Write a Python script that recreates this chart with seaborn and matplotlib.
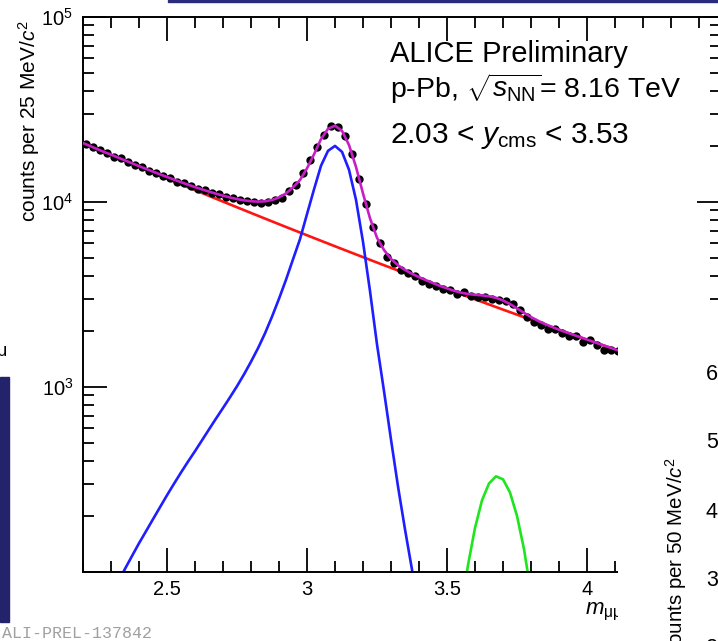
import numpy as np
import pandas as pd
import matplotlib
matplotlib.use("Agg")
import matplotlib.pyplot as plt
from matplotlib.patches import Rectangle
from matplotlib.ticker import (MultipleLocator, LogLocator, FixedLocator,
                               FuncFormatter, NullFormatter)
import seaborn as sns

# ---- dimuon invariant-mass spectrum, p-Pb 8.16 TeV, 2.03 < y_cms < 3.53 ----
# bin centres of the 25 MeV/c^2 histogram (GeV/c^2)
mass_bins = np.round(2.2125 + 0.025 * np.arange(77), 4)
counts = [
    20700, 19800, 19000, 18400, 17500, 17200, 16400, 15800, 15500, 14800,
    14400, 13800, 13500, 12900, 12700, 12200, 11800, 11600, 11200, 11000,
    10600, 10500, 10200, 10100, 9950, 9900, 10000, 10300, 10500, 11500,
    12300, 14400, 16800, 19800, 23100, 25600, 25400, 22800, 18100, 13300,
    9750, 7300, 5980, 5070, 4680, 4290, 4150, 3980, 3750, 3620,
    3500, 3400, 3350, 3180, 3250, 3120, 3080, 3060, 3000, 2950,
    2900, 2800, 2620, 2400, 2250, 2150, 2060, 2050, 1960, 1890,
    1880, 1760, 1790, 1690, 1580, 1590, 1560,
]

# fit components sampled on a 25 MeV/c^2 grid starting at 2.2 GeV/c^2
fit_mass = np.round(2.2 + 0.025 * np.arange(78), 4)
background = [
    20845, 20083, 19347, 18640, 17961, 17308, 16681, 16077, 15497, 14940,
    14404, 13888, 13392, 12916, 12457, 12016, 11592, 11184, 10791, 10415,
    10051, 9701, 9364, 9039, 8726, 8425, 8135, 7856, 7587, 7328,
    7080, 6840, 6609, 6386, 6171, 5964, 5764, 5571, 5386, 5207,
    5034, 4868, 4708, 4553, 4406, 4262, 4124, 3990, 3861, 3737,
    3617, 3501, 3389, 3281, 3176, 3075, 2978, 2884, 2793, 2705,
    2620, 2539, 2460, 2384, 2311, 2240, 2171, 2105, 2040, 1978,
    1918, 1860, 1804, 1750, 1697, 1647, 1598, 1551,
]
jpsi = [None] * 4 + [
    75, 88, 104, 122, 143, 166, 193, 224, 260, 300,
    345, 395, 450, 515, 590, 675, 770, 880, 1010, 1170,
    1370, 1620, 1950, 2400, 3000, 3800, 4900, 6300, 8600, 11700,
    15700, 18900, 20100, 18670, 14940, 10270, 6090, 3300, 1700, 950,
    520, 290, 170, 103, 64, 42, 28, 18, 12,
] + [None] * 25
psi2s = [None] * 52 + [
    14, 30, 60, 109, 173, 244, 301, 329, 317, 269, 201, 133, 77, 40, 19, 8,
] + [None] * 10

bkg_arr = np.array(background, dtype=float)
jpsi_arr = np.array(jpsi, dtype=float)
psi2s_arr = np.array(psi2s, dtype=float)
total = bkg_arr + np.nan_to_num(jpsi_arr) + np.nan_to_num(psi2s_arr)

components = pd.DataFrame({
    "mass": np.tile(fit_mass, 3),
    "counts": np.concatenate([bkg_arr, jpsi_arr, psi2s_arr]),
    "component": np.repeat(["background", "jpsi", "psi2s"], len(fit_mass)),
})
data = pd.DataFrame({"mass": mass_bins, "counts": counts})
fit_total = pd.DataFrame({"mass": fit_mass, "counts": total})

# ---- style ----
sns.set_theme(style="ticks")
plt.rcParams["font.family"] = ["Liberation Sans", "DejaVu Sans"]
plt.rcParams["mathtext.fontset"] = "custom"
plt.rcParams["mathtext.rm"] = "Liberation Sans"
plt.rcParams["mathtext.it"] = "Liberation Sans:italic"
plt.rcParams["mathtext.bf"] = "Liberation Sans:bold"
plt.rcParams["axes.linewidth"] = 1.4
plt.rcParams["axes.edgecolor"] = "black"

W, H = 718, 641
fig = plt.figure(figsize=(W / 100, H / 100), dpi=100)
fig.patch.set_facecolor("white")
X_LO, X_HI = 2.2, 4.48
ax = fig.add_axes([83 / W, (H - 572) / H, (X_HI - X_LO) * 280 / W, 555 / H])
ax.set_facecolor("white")

palette = {"background": "#ff1414", "jpsi": "#1e1eff", "psi2s": "#1ee61e"}
sns.lineplot(data=components.dropna(), x="mass", y="counts", hue="component",
             palette=palette, estimator=None, lw=1.9, legend=False, ax=ax,
             zorder=2)
sns.scatterplot(data=data, x="mass", y="counts", color="black", s=36,
                linewidth=0, ax=ax, zorder=3)
sns.lineplot(data=fit_total, x="mass", y="counts", color="#c81ec8",
             estimator=None, lw=1.9, ax=ax, zorder=4)

ax.set_yscale("log")
ax.set_xlim(X_LO, X_HI)
ax.set_ylim(100, 1e5)

ax.xaxis.set_major_locator(MultipleLocator(0.5))
ax.xaxis.set_minor_locator(MultipleLocator(0.1))
ax.xaxis.set_major_formatter(FuncFormatter(lambda v, p: f"{v:g}"))
ax.yaxis.set_major_locator(FixedLocator([1e2, 1e3, 1e4, 1e5]))
ax.yaxis.set_major_formatter(FuncFormatter(
    lambda v, p: "" if v < 500 else rf"$10^{{{int(round(np.log10(v)))}}}$"))
ax.yaxis.set_minor_locator(LogLocator(base=10, subs=np.arange(2, 10), numticks=30))
ax.yaxis.set_minor_formatter(NullFormatter())

ax.tick_params(which="both", direction="in", top=True, right=True,
               color="black", width=1.3, labelcolor="black")
ax.tick_params(which="major", length=17, labelsize=14.5)
ax.tick_params(which="minor", length=8)
ax.tick_params(axis="x", which="major", pad=6)
ax.tick_params(axis="y", which="major", pad=7)

ax.set_ylabel(r"counts per 25 MeV/$c^2$", fontsize=15, loc="top",
              color="black")
ax.yaxis.set_label_coords(-0.0645, 0.995)
ax.set_xlabel(r"$m_{\mathrm{\mu\mu}}$", fontsize=16, color="black",
              ha="left", va="center")
ax.xaxis.set_label_coords((585 - 83) / ((X_HI - X_LO) * 280), -0.072)

# legend text block
fig.text(390 / W, 1 - 62 / H, "ALICE Preliminary", fontsize=21,
         va="baseline", color="black")
fig.text(390 / W, 1 - 98 / H, r"p-Pb, $\sqrt{s_{\mathrm{NN}}}$= 8.16 TeV",
         fontsize=20.5, va="baseline", color="black")
fig.text(390 / W, 1 - 143 / H, r"2.03 < $y_{\mathrm{cms}}$ < 3.53",
         fontsize=21.5, va="baseline", color="black")

# neighbouring panel on the right
ax2 = fig.add_axes([618 / W, 0, 100 / W, (H - 300) / H], zorder=10)
ax2.set_facecolor("white")
ax2.set_xticks([])
ax2.set_yticks([])
for s in ax2.spines.values():
    s.set_visible(False)
ax2.text(689 / W, 1 - 457 / H, r"counts per 50 MeV/$c^2$", rotation=90,
         ha="right", va="top", fontsize=14.8, transform=fig.transFigure,
         clip_on=False, color="black")
for lab, ypix in zip(["6", "5", "4", "3", "2"], [375, 443, 513, 580, 648]):
    ax2.text(706 / W, 1 - ypix / H, lab, ha="left", va="center", fontsize=15.5,
             transform=fig.transFigure, clip_on=False, color="black")

# page decorations
fig.add_artist(Rectangle((168 / W, 1 - 2 / H), (W - 168) / W, 2 / H,
                         transform=fig.transFigure, color="#2b2b7e", zorder=20))
fig.add_artist(Rectangle((0, 1 - 622 / H), 9 / W, (622 - 377) / H,
                         transform=fig.transFigure, color="#23236c", zorder=20))
fig.text(2 / W, 1 - 633 / H, "ALI-PREL-137842", family="Liberation Mono",
         fontsize=12, color="#a0a0a0", va="center")
fig.text(-3 / W, 1 - 352 / H, "μ", fontsize=13, va="center", color="black")

fig.savefig("out.png", dpi=100, facecolor="white")
